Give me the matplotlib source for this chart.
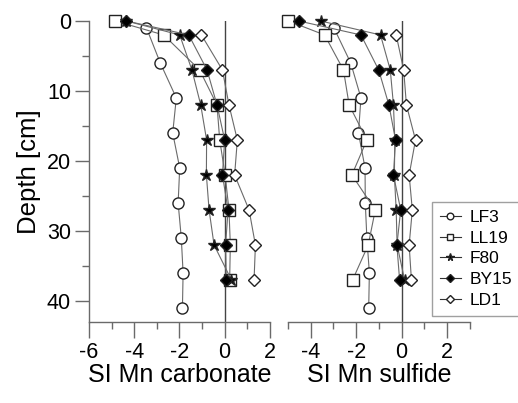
import matplotlib.pyplot as plt
from matplotlib.ticker import MultipleLocator
from matplotlib.lines import Line2D

plt.rcParams['font.family'] = ['Liberation Sans', 'DejaVu Sans']

# depths [cm]
depth_lf3 = [1, 6, 11, 16, 21, 26, 31, 36, 41]
depth_main = [0, 2, 7, 12, 17, 22, 27, 32, 37]
depth_ld1 = [2, 7, 12, 17, 22, 27, 32, 37]

# SI Mn carbonate
carb_lf3 = [-3.46, -2.85, -2.14, -2.30, -1.99, -2.06, -1.92, -1.84, -1.87]
carb_ll19 = [-4.84, -2.70, -1.11, -0.34, -0.22, 0.02, 0.19, 0.25, 0.22]
carb_f80 = [-4.35, -1.99, -1.45, -1.06, -0.80, -0.81, -0.69, -0.47, 0.30]
carb_by15 = [-4.35, -1.59, -0.78, -0.34, 0.00, -0.10, 0.15, 0.04, 0.07]
carb_ld1 = [-1.03, -0.10, 0.19, 0.56, 0.44, 1.08, 1.36, 1.30]

# SI Mn sulfide
sulf_lf3 = [-2.98, -2.24, -1.79, -1.90, -1.61, -1.60, -1.53, -1.42, -1.45]
sulf_ll19 = [-4.98, -3.39, -2.56, -2.31, -1.53, -2.19, -1.16, -1.47, -2.16]
sulf_f80 = [-3.57, -0.93, -0.50, -0.36, -0.30, -0.32, -0.24, -0.20, 0.13]
sulf_by15 = [-4.53, -1.79, -1.01, -0.56, -0.27, -0.36, -0.04, -0.21, -0.09]
sulf_ld1 = [-0.24, 0.09, 0.21, 0.61, 0.33, 0.47, 0.33, 0.43]

names = ['LF3', 'LL19', 'F80', 'BY15', 'LD1']
styles = {
    'LF3': dict(marker='o', ms=8, mfc='white'),
    'LL19': dict(marker='s', ms=8, mfc='white'),
    'F80': dict(marker='*', ms=9, mfc='black'),
    'BY15': dict(marker='D', ms=6.3, mfc='black'),
    'LD1': dict(marker='D', ms=6.3, mfc='white'),
}
line_col = '#6a6a6a'
axis_col = '#6a6a6a'

fig = plt.figure(figsize=(5.18, 4.03), dpi=100)
ax1 = fig.add_axes([0.172, 0.201, 0.349, 0.747])
ax2 = fig.add_axes([0.556, 0.201, 0.351, 0.747])

carb = [carb_lf3, carb_ll19, carb_f80, carb_by15, carb_ld1]
sulf = [sulf_lf3, sulf_ll19, sulf_f80, sulf_by15, sulf_ld1]
depths = [depth_lf3, depth_main, depth_main, depth_main, depth_ld1]

for ax, data in [(ax1, carb), (ax2, sulf)]:
    ax.axvline(0, color='#444444', lw=1.0, zorder=1)
    for name, x, d in zip(names, data, depths):
        ax.plot(x, d, color=line_col, lw=0.8, mec='#222222', mew=1.0,
                clip_on=False, zorder=3, **styles[name])
    ax.set_ylim(43, 0)
    for s in ['top', 'right']:
        ax.spines[s].set_visible(False)
    for s in ['left', 'bottom']:
        ax.spines[s].set_color(axis_col)
        ax.spines[s].set_linewidth(1.0)
    ax.xaxis.set_major_locator(MultipleLocator(2))
    ax.xaxis.set_minor_locator(MultipleLocator(1))
    ax.tick_params(axis='x', which='major', length=11.5, width=1.0,
                   color=axis_col, labelsize=15.5, pad=3)
    ax.tick_params(axis='x', which='minor', length=5, width=1.0, color=axis_col)
    ax.tick_params(axis='y', which='major', length=10, width=1.0,
                   color=axis_col, labelsize=15.5, pad=3)
    ax.tick_params(axis='y', which='minor', length=5, width=1.0, color=axis_col)

ax1.set_xlim(-6, 2)
ax1.set_xticks([-6, -4, -2, 0, 2])
ax1.set_xticklabels(['-6', '-4', '-2', '0', '2'])
ax1.yaxis.set_major_locator(MultipleLocator(10))
ax1.yaxis.set_minor_locator(MultipleLocator(5))
ax1.set_ylabel('Depth [cm]', fontsize=18.5, labelpad=4)
ax1.set_xlabel('SI Mn carbonate', fontsize=18, labelpad=0)

ax2.set_xlim(-5, 3)
ax2.set_xticks([-4, -2, 0, 2])
ax2.set_xticklabels(['-4', '-2', '0', '2'])
ax2.spines['left'].set_visible(False)
ax2.tick_params(axis='y', which='both', left=False, labelleft=False)
ax2.set_xlabel('SI Mn sulfide', fontsize=18, labelpad=0)

handles = [Line2D([], [], color='#333333', lw=0.8, mec='#222222', mew=1.0,
                  **{**styles[n], 'ms': styles[n]['ms'] * 0.6}) for n in names]
leg = fig.legend(handles, names, loc='upper left', bbox_to_anchor=(0.834, 0.499),
                 fontsize=12.5, frameon=True, fancybox=False, handlelength=1.2,
                 handletextpad=0.5, labelspacing=0.32, borderpad=0.45,
                 borderaxespad=0)
leg.get_frame().set_edgecolor('#888888')
leg.get_frame().set_linewidth(1.0)

fig.savefig('out.png', dpi=100)
